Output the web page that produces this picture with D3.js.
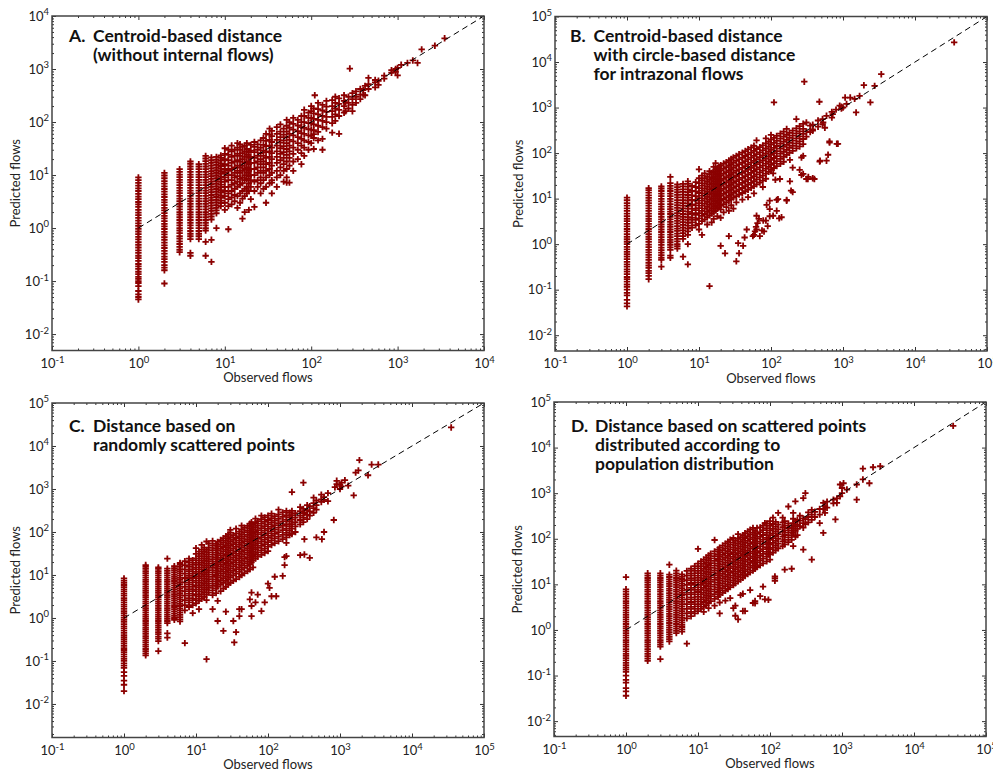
<!DOCTYPE html>
<html>
<head>
<meta charset="utf-8">
<script src="https://cdn.jsdelivr.net/npm/d3@7"></script>
<style>
  body { margin: 0; background: #fff; }
  text { font-family: Lato, "Open Sans", sans-serif; }
</style>
</head>
<body>
<svg id="chart" width="993" height="771"></svg>
<script>
// Panel titles
const titleA = ["Centroid-based distance", "(without internal flows)"];
const titleB = ["Centroid-based distance", "with circle-based distance", "for intrazonal flows"];
const titleC = ["Distance based on", "randomly scattered points"];
const titleD = ["Distance based on scattered points", "distributed according to", "population distribution"];

// Decade exponents used as major tick labels
const xExpA = [-1, 0, 1, 2, 3, 4];
const yExpA = [-2, -1, 0, 1, 2, 3, 4];
const xExpB = [-1, 0, 1, 2, 3, 4, 5];
const yExpB = [-2, -1, 0, 1, 2, 3, 4, 5];
const xExpC = [-1, 0, 1, 2, 3, 4, 5];
const yExpC = [-2, -1, 0, 1, 2, 3, 4, 5];
const xExpD = [-1, 0, 1, 2, 3, 4, 5];
const yExpD = [-2, -1, 0, 1, 2, 3, 4, 5];

// [observed flow, [predicted flows ...]]
const flowsA = [
  [1, [0.045, 0.05, 0.056, 0.065, 0.08, 0.092, 0.1, 0.11, 0.12, 0.135, 0.15, 0.17, 0.19, 0.21, 0.24, 0.27, 0.3, 0.34, 0.38, 0.43, 0.48, 0.54, 0.61, 0.68, 0.77, 0.86, 0.97, 1.1, 1.23, 1.38, 1.55, 1.75, 1.95, 2.2, 2.5, 2.8, 3.1, 3.5, 3.9, 4.4, 5, 5.6, 6.3, 7.1, 8, 9]],
  [2, [0.09, 0.16, 0.18, 0.2, 0.23, 0.26, 0.29, 0.33, 0.37, 0.42, 0.47, 0.53, 0.6, 0.67, 0.76, 0.85, 0.96, 1.08, 1.2, 1.35, 1.52, 1.7, 1.92, 2.15, 2.4, 2.7, 3.05, 3.4, 3.85, 4.3, 4.85, 5.45, 6.1, 6.9, 7.7, 8.7, 9.8, 11]],
  [3, [0.35, 0.39, 0.44, 0.5, 0.56, 0.63, 0.7, 0.8, 0.9, 1.0, 1.12, 1.26, 1.42, 1.6, 1.8, 2.0, 2.25, 2.55, 2.85, 3.2, 3.6, 4.05, 4.55, 5.1, 5.75, 6.45, 7.25, 8.1, 9.1, 10.2, 11.5, 12.9]],
  [4, [0.3, 0.34, 0.62, 0.7, 0.78, 0.88, 1.0, 1.12, 1.26, 1.42, 1.6, 1.8, 2.0, 2.25, 2.55, 2.85, 3.2, 3.6, 4.05, 4.55, 5.1, 5.75, 6.45, 7.25, 8.1, 9.1, 10.2, 11.5, 12.9, 14.5, 16.3, 18]],
  [5, [0.62, 0.7, 0.78, 0.88, 1.0, 1.12, 1.26, 1.42, 1.6, 1.8, 2.0, 2.25, 2.55, 2.85, 3.2, 3.6, 4.05, 4.55, 5.1, 5.75, 6.45, 7.25, 8.1, 9.1, 10.2, 11.5, 12.9, 14.5, 16]],
  [6, [0.3, 0.55, 0.9, 1.0, 1.12, 1.26, 1.42, 1.6, 1.8, 2.0, 2.25, 2.55, 2.85, 3.2, 3.6, 4.05, 4.55, 5.1, 5.75, 6.45, 7.25, 8.1, 9.1, 10.2, 11.5, 12.9, 14.5, 16.3, 18.3, 20.5, 23]],
  [7, [0.23, 0.6, 1.45, 1.65, 1.85, 2.1, 2.35, 2.65, 3.0, 3.35, 3.75, 4.2, 4.75, 5.3, 6.0, 6.7, 7.5, 8.45, 9.5, 10.6, 11.9, 13.4, 15, 16.9, 19, 21.5]],
  [8, [1.0, 1.9, 2.15, 2.4, 2.7, 3.05, 3.4, 3.85, 4.3, 4.85, 5.45, 6.1, 6.9, 7.7, 8.7, 9.8, 11, 12.3, 13.8, 15.5, 17.5, 19.6, 22]],
  [9, [2.6, 2.95, 3.3, 3.7, 4.15, 4.65, 5.2, 5.85, 6.6, 7.4, 8.3, 9.3, 10.5, 11.8, 13.2, 14.8, 16.6, 18.7, 21, 23.5]],
  [10, [2.2, 3, 4, 5, 6, 7.5, 9, 11, 13, 16, 20, 25, 32]],
  [11, [0.95, 2.6, 3.5, 4.5, 6, 8, 10, 12, 15, 19, 24, 30]],
  [12, [2.8, 3.8, 5, 6.5, 8, 10, 13, 17, 22, 28, 36]],
  [13, [3.2, 4.2, 5.5, 7, 9, 11, 14, 18, 23, 30]],
  [14, [2.4, 4, 6, 7.5, 9.5, 12, 15, 19, 25, 33, 40]],
  [15, [3, 4.5, 6.5, 8.5, 11, 14, 18, 23, 30, 38]],
  [16, [1.5, 3.6, 5, 7, 9, 12, 15, 20, 26, 34]],
  [17, [2, 4, 5.5, 8, 10, 13, 17, 22, 28, 36]],
  [18, [4.5, 6, 8.5, 11, 14, 18, 24, 31, 40]],
  [19, [2.2, 5, 7, 9.5, 12, 16, 21, 27]],
  [20, [3.5, 6, 8, 10, 13, 17, 22, 29, 37]],
  [22, [2.5, 5, 7.5, 10, 13, 17, 21, 27, 34, 42]],
  [24, [6, 8, 11, 14, 18, 23, 30, 38]],
  [26, [4.5, 7, 9, 12, 16, 20, 26, 33, 45]],
  [28, [5.5, 8, 11, 14, 18, 23, 29, 37, 50]],
  [30, [3, 6, 9, 12, 16, 21, 27, 35, 44, 60]],
  [33, [7, 10, 13, 17, 22, 28, 36, 46, 58, 75]],
  [35, [7.2, 4.5, 8, 11, 15, 20, 26, 33, 42, 54, 68]],
  [40, [6, 9, 12, 17, 22, 28, 36, 46, 60, 80]],
  [44, [10, 14, 19, 25, 32, 41, 52, 66, 90]],
  [48, [7.5, 12, 16, 21, 27, 35, 45, 58, 75]],
  [52, [7.2, 9, 13, 18, 24, 31, 40, 52, 66, 85, 110]],
  [56, [7.2, 15, 21, 28, 36, 46, 60, 78, 100]],
  [62, [12, 18, 25, 33, 43, 56, 72, 92, 120]],
  [70, [20, 30, 40, 52, 67, 86, 110]],
  [77, [16, 26, 36, 48, 62, 80, 100, 130]],
  [83, [33, 23, 45, 60, 78, 100, 130, 170]],
  [93, [30, 42, 56, 73, 95, 120, 150]],
  [100, [40, 55, 72, 95, 120, 160, 200]],
  [107, [31, 59, 50, 70, 90, 115, 145, 180]],
  [110, [320]],
  [120, [45, 65, 85, 110, 140, 175, 230]],
  [135, [30, 48, 80, 105, 130, 165, 210]],
  [150, [75, 100, 125, 155, 195, 250]],
  [175, [63, 95, 125, 160, 200, 260]],
  [190, [105, 140, 180, 230, 300]],
  [210, [60, 130, 170, 220, 280]],
  [240, [150, 200, 250, 320]],
  [250, [160, 235]],
  [270, [180, 230, 300]],
  [280, [1020]],
  [300, [160, 210, 270, 350]],
  [330, [230, 300, 380]],
  [370, [270, 330, 420]],
  [400, [330, 400]],
  [420, [320, 480]],
  [460, [680, 520, 420]],
  [550, [450, 560, 620]],
  [600, [500, 600]],
  [700, [660, 750]],
  [850, [850, 950]],
  [950, [880, 1000]],
  [1000, [760, 1050]],
  [1100, [1200]],
  [1300, [1300]],
  [1500, [1450]],
  [1700, [1300]],
  [1900, [2350]],
  [2700, [2750]],
  [3500, [3800]]
];

const flowsB = [
  [1, [0.043, 0.05, 0.06, 0.075, 0.085, 0.1, 0.115, 0.13, 0.15, 0.17, 0.19, 0.22, 0.25, 0.28, 0.32, 0.36, 0.41, 0.47, 0.53, 0.6, 0.68, 0.77, 0.87, 1.0, 1.13, 1.28, 1.45, 1.65, 1.9, 2.15, 2.45, 2.8, 3.2, 3.6, 4.1, 4.7, 5.4, 6.1, 7, 8, 9.2, 10.5]],
  [2, [0.17, 0.2, 0.23, 0.26, 0.3, 0.34, 0.39, 0.45, 0.51, 0.58, 0.66, 0.75, 0.86, 0.98, 1.12, 1.28, 1.45, 1.65, 1.9, 2.15, 2.45, 2.8, 3.2, 3.6, 4.1, 4.7, 5.4, 6.1, 7, 8, 9.1, 10.4, 11.8, 13.5, 15.4, 17]],
  [3, [0.32, 0.45, 0.5, 0.57, 0.65, 0.74, 0.84, 0.96, 1.1, 1.25, 1.42, 1.62, 1.85, 2.1, 2.4, 2.7, 3.1, 3.5, 4, 4.6, 5.2, 5.9, 6.7, 7.6, 8.7, 9.9, 11.3, 12.9, 14.7, 16.7, 18.5]],
  [4, [0.5, 0.56, 0.75, 0.85, 0.97, 1.1, 1.25, 1.42, 1.62, 1.85, 2.1, 2.4, 2.7, 3.1, 3.5, 4, 4.6, 5.2, 5.9, 6.7, 7.6, 8.7, 9.9, 11.3, 12.9, 14.7, 16.7, 19, 22, 30]],
  [5, [0.8, 0.9, 1.0, 1.15, 1.3, 1.5, 1.7, 1.95, 2.2, 2.5, 2.85, 3.25, 3.7, 4.2, 4.8, 5.5, 6.3, 7.2, 8.2, 9.3, 10.6, 12.1, 13.8, 15.7, 17.9, 20.4]],
  [6, [0.53, 1.3, 1.5, 1.75, 2, 2.3, 2.65, 3.05, 3.5, 4, 4.6, 5.3, 6.1, 7, 8, 9.2, 10.6, 12.2, 14, 16, 18.5, 21]],
  [7, [0.36, 1.0, 1.6, 1.9, 2.2, 2.55, 2.95, 3.4, 3.9, 4.5, 5.2, 6, 6.9, 7.9, 9.1, 10.5, 12, 13.8, 15.9, 18.3, 21, 24]],
  [8, [2.3, 3, 3.8, 4.8, 6, 7.5, 9.4, 11.8, 14.8, 19]],
  [9, [2.6, 3.4, 4.4, 5.6, 7.1, 9, 11.4, 14.4, 18, 23]],
  [10, [2.1, 2.8, 3.7, 4.8, 6.2, 8, 10.3, 13.3, 17, 22, 28, 44]],
  [11, [1.6, 3.2, 4.2, 5.4, 7, 9, 11.6, 15, 19.3, 25, 32]],
  [12, [3.5, 4.6, 6, 7.8, 10, 13, 16.7, 21.5, 28, 36]],
  [13, [2.7, 3.9, 5.1, 6.6, 8.5, 11, 14.2, 18.3, 23.6, 30.5]],
  [14, [0.12, 4.3, 5.6, 7.3, 9.4, 12.2, 15.7, 20.3, 26, 34, 40]],
  [15, [3, 4.7, 6.1, 7.9, 10.2, 13.2, 17, 22, 28.4, 36.7]],
  [16, [3.6, 5.1, 6.6, 8.6, 11.1, 14.3, 18.5, 23.9, 30.8, 39.8, 50]],
  [17, [5.5, 7.2, 9.3, 12, 15.5, 20, 25.8, 33.4, 43, 60]],
  [18, [4.1, 6, 7.8, 10, 13, 16.8, 21.7, 28, 36.2, 46.7]],
  [19, [6.5, 8.4, 10.9, 14, 18.2, 23.5, 30.3, 39, 50]],
  [20, [0.92, 3.8, 5.8, 7, 9.1, 11.8, 15.2, 19.6, 25.3, 32.7, 42.2, 54]],
  [22, [5, 7.6, 9.8, 12.7, 16.4, 21.2, 27.3, 35.3, 45.6, 58.9]],
  [23, [0.63]],
  [24, [6.5, 8.3, 10.6, 13.7, 17.7, 22.8, 29.5, 38, 49, 63]],
  [26, [1.5, 5.4, 9, 11.5, 14.8, 19.1, 24.7, 31.9, 41.2, 53.2, 68.7]],
  [28, [7.2, 9.7, 12.4, 16, 20.6, 26.6, 34.4, 44.4, 57.3, 74]],
  [30, [6, 10.5, 13.4, 17.3, 22.3, 28.8, 37.2, 48, 62, 80]],
  [33, [0.42, 8.3, 11.4, 14.6, 18.8, 24.3, 31.4, 40.5, 52.3, 67.5, 87]],
  [35, [1.05]],
  [36, [0.63, 12.3, 15.8, 20.4, 26.3, 34, 43.9, 56.7, 73, 94]],
  [40, [9.5, 13.3, 17.1, 22.1, 28.5, 36.8, 47.5, 61.3, 79.1, 102]],
  [41, [0.92]],
  [43, [1.4]],
  [44, [14.5, 18.7, 24.1, 31.1, 40.1, 51.8, 66.9, 86.3, 111]],
  [46, [2.1]],
  [48, [10.8, 15.7, 20.3, 26.2, 33.8, 43.6, 56.3, 72.7, 94, 121]],
  [53, [17.2, 22.2, 28.6, 36.9, 47.6, 61.5, 79.4, 102, 132]],
  [56, [1.5]],
  [58, [1.6, 13, 18.8, 24.3, 31.3, 40.4, 52.2, 67.4, 87, 112, 145]],
  [60, [1.9]],
  [62, [2.4]],
  [63, [2.1, 4.2, 20.6, 26.5, 34.2, 44.2, 57, 73.6, 95, 123, 190]],
  [65, [2.9]],
  [68, [3.6]],
  [70, [1.5, 22.6, 29.2, 37.7, 48.6, 62.7, 81, 104, 135]],
  [75, [2.0]],
  [77, [18, 24.8, 32, 41.3, 53.3, 68.8, 88.8, 115, 148]],
  [78, [3.3]],
  [80, [1.9]],
  [85, [3.3, 27.3, 35.3, 45.5, 58.8, 75.9, 98, 126, 163, 210]],
  [87, [7.3]],
  [90, [2.5]],
  [93, [38.8, 50, 64.6, 83.4, 108, 139, 179]],
  [96, [5.9, 9, 4.1]],
  [100, [42.6, 55, 71, 91.6, 118, 153, 197, 250]],
  [107, [4.2, 36]],
  [110, [47, 60.5, 78, 100, 130, 168, 215, 1300]],
  [115, [26]],
  [120, [9.4, 5.4, 51.6, 66.6, 86, 111, 143, 185, 238]],
  [125, [9.7]],
  [130, [3.7]],
  [133, [27]],
  [135, [58, 75, 97, 125, 161, 208, 268]],
  [140, [3.9]],
  [150, [64.6, 83, 107, 138, 178, 230, 297]],
  [165, [9, 9.4, 91, 118, 152, 196, 253, 340]],
  [180, [101, 130, 167, 216, 279]],
  [183, [24, 71]],
  [190, [15]],
  [200, [13.9, 48, 112, 145, 187, 241, 310]],
  [225, [127, 164, 211, 272, 350, 560]],
  [250, [43, 140, 181, 233, 300, 390]],
  [265, [33, 80]],
  [280, [35, 87, 158, 204, 263, 340, 440]],
  [290, [3700]],
  [310, [27, 230, 300, 470]],
  [325, [27]],
  [330, [30]],
  [350, [290, 400]],
  [380, [28, 310, 330, 420]],
  [400, [27]],
  [450, [380, 520]],
  [470, [1340]],
  [475, [65]],
  [480, [68]],
  [520, [430, 560]],
  [530, [470]],
  [560, [360]],
  [590, [68, 660]],
  [620, [92]],
  [650, [170, 180]],
  [700, [600, 800]],
  [720, [720]],
  [800, [900]],
  [820, [160]],
  [850, [160]],
  [900, [1100]],
  [950, [950, 1050]],
  [1000, [1000]],
  [1070, [1660]],
  [1120, [1200]],
  [1260, [1660]],
  [1450, [1550]],
  [1520, [780]],
  [1700, [1800]],
  [1950, [3100]],
  [2400, [1300]],
  [2750, [3000]],
  [3400, [5400]],
  [35000, [27000]]
];

const flowsC = [
  [1, [0.02, 0.028, 0.035, 0.045, 0.055, 0.069, 0.078, 0.088, 0.1, 0.112, 0.126, 0.142, 0.16, 0.18, 0.2, 0.225, 0.255, 0.285, 0.32, 0.36, 0.4, 0.45, 0.51, 0.57, 0.64, 0.72, 0.81, 0.91, 1.02, 1.15, 1.3, 1.45, 1.63, 1.83, 2.05, 2.3, 2.6, 2.9, 3.3, 3.7, 4.15, 4.65, 5.2, 5.85, 6.6, 7.4, 8.3]],
  [2, [0.135, 0.15, 0.17, 0.19, 0.215, 0.24, 0.27, 0.3, 0.34, 0.38, 0.43, 0.48, 0.54, 0.6, 0.68, 0.76, 0.85, 0.96, 1.08, 1.2, 1.35, 1.52, 1.7, 1.92, 2.15, 2.4, 2.7, 3.05, 3.4, 3.85, 4.3, 4.85, 5.45, 6.1, 6.9, 7.7, 8.7, 9.8, 11, 12.3, 13.8, 15.5, 17]],
  [3, [0.17, 0.29, 0.33, 0.37, 0.42, 0.47, 0.53, 0.6, 0.67, 0.76, 0.85, 0.96, 1.08, 1.2, 1.35, 1.52, 1.7, 1.92, 2.15, 2.4, 2.7, 3.05, 3.4, 3.85, 4.3, 4.85, 5.45, 6.1, 6.9, 7.7, 8.7, 9.8, 11, 12.3, 13.8, 15]],
  [4, [0.35, 0.44, 0.76, 0.85, 0.96, 1.08, 1.2, 1.35, 1.52, 1.7, 1.92, 2.15, 2.4, 2.7, 3.05, 3.4, 3.85, 4.3, 4.85, 5.45, 6.1, 6.9, 7.7, 8.7, 9.8, 11, 12.5, 14, 24]],
  [5, [0.91, 1.0, 1.12, 1.26, 1.42, 1.6, 1.8, 2.0, 2.25, 2.55, 2.85, 3.2, 3.6, 4.05, 4.55, 5.1, 5.75, 6.45, 7.25, 8.1, 9.1, 10.2, 11.5, 12.9, 14.5, 16]],
  [6, [0.83, 0.93, 1.05, 1.18, 1.33, 1.5, 1.68, 1.9, 2.12, 2.4, 2.7, 3.0, 3.4, 3.8, 4.3, 4.8, 5.4, 6.1, 6.8, 7.7, 8.6, 9.7, 10.9, 12.2, 13.7, 15.4, 17.3, 19]],
  [7, [0.26, 1.5, 2, 2.6, 3.3, 4.2, 5.3, 6.7, 8.5, 10.7, 13.5, 17, 21]],
  [8, [1.8, 2.3, 2.9, 3.7, 4.7, 6, 7.6, 9.6, 12.2, 15.5, 19.5, 24]],
  [9, [1.3, 2, 2.6, 3.3, 4.2, 5.3, 6.7, 8.5, 10.8, 13.7, 17.3, 22]],
  [10, [2.2, 2.8, 3.6, 4.6, 5.8, 7.4, 9.4, 11.9, 15.1, 19.2, 24.3, 31, 42]],
  [11, [1.6, 2.5, 3.2, 4.1, 5.2, 6.6, 8.4, 10.6, 13.5, 17.1, 21.7, 27.5, 35]],
  [12, [2.8, 3.6, 4.6, 5.8, 7.4, 9.4, 11.9, 15.1, 19.2, 24.3, 30.9, 39, 50]],
  [13, [3.1, 4, 5.1, 6.5, 8.2, 10.4, 13.2, 16.8, 21.3, 27, 34.3, 43.5]],
  [14, [0.11, 2.6, 3.5, 4.5, 5.7, 7.2, 9.2, 11.6, 14.8, 18.7, 23.8, 30.2, 38.3, 60]],
  [15, [3.9, 5, 6.3, 8, 10.2, 13, 16.5, 20.9, 26.5, 33.7, 42.8, 54]],
  [17, [1.6, 3.4, 4.4, 5.6, 7.1, 9, 11.5, 14.6, 18.5, 23.5, 29.8, 37.8, 48, 62]],
  [19, [3.8, 4.9, 6.2, 7.9, 10, 12.7, 16.2, 20.5, 26, 33, 42, 53]],
  [20, [0.85, 2.5, 5.4, 6.9, 8.8, 11.1, 14.1, 17.9, 22.8, 28.9, 36.7, 46.6, 59]],
  [22, [4.2, 6, 7.6, 9.7, 12.3, 15.6, 19.8, 25.1, 31.9, 40.5, 51.4, 65]],
  [24, [0.5, 4.8, 6.6, 8.4, 10.7, 13.6, 17.2, 21.9, 27.8, 35.3, 44.8, 57, 72]],
  [26, [1.4, 5.3, 7.3, 9.3, 11.8, 15, 19, 24.2, 30.7, 39, 49.5, 62.8, 80]],
  [28, [6, 8, 10.2, 13, 16.5, 21, 26.6, 33.8, 42.9, 54.5, 69, 88]],
  [30, [6.6, 8.9, 11.3, 14.3, 18.2, 23.1, 29.3, 37.2, 47.3, 60, 76, 97, 112]],
  [33, [0.85, 7.3, 9.8, 12.4, 15.8, 20, 25.4, 32.3, 41, 52, 66, 84]],
  [34, [0.27]],
  [36, [0.47, 8, 10.8, 13.7, 17.4, 22, 28, 35.5, 45, 57, 72.5, 92, 120]],
  [40, [1.1, 1.6, 9, 12, 15.2, 19.3, 24.5, 31, 39.5, 50, 63.5, 80.5, 102]],
  [43, [1.6, 10, 13.3, 16.9, 21.4, 27.2, 34.5, 43.8, 55.6, 70.6, 89.6, 114, 140]],
  [47, [11, 14.7, 18.6, 23.6, 30, 38, 48.3, 61.3, 77.8, 98.8, 125]],
  [52, [12.3, 16.2, 20.6, 26.1, 33.2, 42, 53.4, 67.8, 86, 109, 139]],
  [56, [2.7, 13.6, 17.9, 22.7, 28.9, 36.6, 46.5, 59, 75, 95, 121, 155]],
  [59, [1.1, 1.9, 3.9, 19.7, 25, 31.7, 40.3, 51, 65, 82.4, 105, 133, 170]],
  [62, [15, 21.8, 27.6, 35, 44.5, 56.5, 71.8, 91, 116, 147]],
  [67, [2.3, 24, 30.5, 38.7, 49.2, 62.4, 79.2, 100, 128, 162, 205]],
  [72, [3.5, 26.6, 33.7, 42.8, 54.4, 69, 87.6, 111, 141, 179]],
  [81, [1.45, 29.4, 37.3, 47.3, 60, 76.2, 96.8, 123, 156, 198, 240]],
  [90, [2.3, 32.5, 41.2, 52.3, 66.4, 84.3, 107, 136, 172, 219]],
  [100, [6.3, 36, 45.6, 57.8, 73.4, 93.2, 118, 150, 190, 240]],
  [105, [5]],
  [112, [3.2, 50, 64, 81, 103, 131, 166, 211, 268]],
  [124, [9.1, 55, 71, 90, 114, 145, 184, 233]],
  [130, [3.2]],
  [140, [61, 78, 99, 126, 160, 203, 258, 330]],
  [160, [9.5, 68, 86, 110, 139, 177, 224, 285]],
  [170, [26, 17]],
  [180, [27.5, 56, 75, 95, 120, 153, 194, 246, 310]],
  [200, [85, 108, 137, 174, 221, 280]],
  [215, [850, 90, 120, 152, 193, 245, 310]],
  [240, [100, 135, 170, 215, 275]],
  [280, [29, 150, 190, 240, 305, 380]],
  [310, [1400, 170, 215, 270, 345]],
  [320, [30, 68, 280]],
  [350, [200, 250, 320, 420]],
  [380, [25, 240, 300, 400]],
  [430, [630, 280, 360, 470]],
  [470, [75, 330, 420, 540]],
  [550, [575, 500, 740]],
  [560, [68]],
  [600, [100, 560, 650]],
  [680, [800, 520]],
  [820, [190]],
  [850, [1100]],
  [900, [1300, 1550]],
  [1000, [1000, 1250]],
  [1050, [1400, 1150]],
  [1170, [1600]],
  [1300, [1200]],
  [1550, [710]],
  [1650, [2400]],
  [1800, [2700]],
  [1860, [4680]],
  [2450, [2090]],
  [2750, [3700]],
  [3400, [3700]],
  [35000, [27000]]
];

const flowsD = [
  [1, [0.036, 0.045, 0.053, 0.07, 0.08, 0.1, 0.12, 0.135, 0.15, 0.17, 0.19, 0.215, 0.24, 0.27, 0.3, 0.34, 0.38, 0.43, 0.48, 0.54, 0.6, 0.68, 0.76, 0.85, 0.96, 1.08, 1.2, 1.35, 1.52, 1.7, 1.92, 2.15, 2.4, 2.7, 3.05, 3.4, 3.85, 4.3, 4.85, 5.45, 6.1, 6.9, 7.8, 14.4]],
  [2, [0.21, 0.235, 0.265, 0.3, 0.34, 0.38, 0.43, 0.48, 0.54, 0.6, 0.68, 0.76, 0.85, 0.96, 1.08, 1.2, 1.35, 1.52, 1.7, 1.92, 2.15, 2.4, 2.7, 3.05, 3.4, 3.85, 4.3, 4.85, 5.45, 6.1, 6.9, 7.7, 8.7, 9.8, 11, 12.3, 13.8, 15.5, 17.5]],
  [3, [0.23, 0.43, 0.48, 0.54, 0.6, 0.68, 0.76, 0.85, 0.96, 1.08, 1.2, 1.35, 1.52, 1.7, 1.92, 2.15, 2.4, 2.7, 3.05, 3.4, 3.85, 4.3, 4.85, 5.45, 6.1, 6.9, 7.7, 8.7, 9.8, 11, 12.3, 13.8, 15.5, 17.5]],
  [4, [0.56, 0.63, 0.71, 0.8, 0.9, 1.0, 1.12, 1.26, 1.42, 1.6, 1.8, 2.0, 2.25, 2.55, 2.85, 3.2, 3.6, 4.05, 4.55, 5.1, 5.75, 6.45, 7.25, 8.1, 9.1, 10.2, 11.5, 12.9, 14.5, 16.3, 27]],
  [5, [0.85, 0.95, 1.07, 1.2, 1.35, 1.52, 1.7, 1.92, 2.15, 2.4, 2.7, 3.05, 3.4, 3.85, 4.3, 4.85, 5.45, 6.1, 6.9, 7.7, 8.7, 9.8, 11, 12.3, 13.8, 15.5, 17.5, 20]],
  [6, [0.92, 1.03, 1.16, 1.3, 1.46, 1.64, 1.84, 2.07, 2.32, 2.6, 2.92, 3.28, 3.68, 4.13, 4.64, 5.2, 5.84, 6.55, 7.35, 8.25, 9.26, 10.4, 11.7, 13.1, 14.7, 16.5]],
  [7, [0.5, 1.8, 2.3, 2.9, 3.7, 4.7, 6, 7.6, 9.7, 12.3, 15.6, 19.8]],
  [8, [2, 2.5, 3.2, 4.1, 5.2, 6.6, 8.4, 10.7, 13.6, 17.3, 22]],
  [9, [2.3, 2.9, 3.7, 4.7, 6, 7.6, 9.7, 12.3, 15.6, 19.8, 25]],
  [10, [2.6, 3.3, 4.2, 5.3, 6.8, 8.6, 10.9, 13.9, 17.6, 22.4, 28.4, 60]],
  [11, [2.9, 3.7, 4.7, 6, 7.6, 9.7, 12.3, 15.6, 19.8, 25, 32]],
  [12, [2.5, 3.2, 4.1, 5.2, 6.6, 8.4, 10.7, 13.6, 17.3, 22, 28, 35]],
  [13, [3.5, 4.5, 5.7, 7.3, 9.2, 11.7, 14.9, 18.9, 24, 30.5, 38.7]],
  [14, [3, 3.9, 5, 6.3, 8, 10.2, 13, 16.5, 21, 26.6, 33.8, 43]],
  [15, [4.3, 5.5, 7, 8.9, 11.3, 14.3, 18.2, 23.1, 29.3, 37.2, 47.3]],
  [17, [3.4, 4.8, 6.1, 7.8, 9.9, 12.6, 16, 20.3, 25.8, 32.8, 41.6, 52.8, 94]],
  [19, [5.3, 6.8, 8.6, 10.9, 13.9, 17.6, 22.4, 28.4, 36, 45.8, 58]],
  [20, [2.3, 4, 5.9, 7.5, 9.5, 12.1, 15.3, 19.5, 24.7, 31.4, 39.9, 50.7, 64]],
  [22, [6.5, 8.3, 10.5, 13.4, 17, 21.6, 27.4, 34.8, 44.2, 56.1, 71]],
  [24, [4.4, 7.2, 9.1, 11.6, 14.7, 18.7, 23.7, 30.1, 38.3, 48.6, 61.7, 78]],
  [26, [7.9, 10, 12.8, 16.2, 20.6, 26.1, 33.2, 42.1, 53.5, 68, 86]],
  [28, [5, 8.7, 11, 14, 17.8, 22.6, 28.7, 36.5, 46.3, 58.8, 74.7, 95]],
  [31, [3, 9.6, 12.2, 15.5, 19.6, 24.9, 31.7, 40.2, 51, 64.8, 82.3, 104]],
  [33, [2.05, 3.4, 10.5, 13.4, 17, 21.6, 27.4, 34.8, 44.2, 56.1, 71.3, 90.5]],
  [36, [1.7, 11.6, 14.7, 18.7, 23.7, 30.1, 38.3, 48.6, 61.7, 78.3, 99.4, 126]],
  [39, [5.8, 12.7, 16.2, 20.5, 26, 33.1, 42, 53.3, 67.7, 86, 109]],
  [42, [2.6, 6.2, 14, 17.8, 22.6, 28.7, 36.4, 46.2, 58.7, 74.5, 94.6, 120]],
  [45, [2.6, 15.3, 19.5, 24.7, 31.4, 39.9, 50.6, 64.3, 81.6, 104, 132]],
  [49, [16.8, 21.4, 27.2, 34.5, 43.8, 55.6, 70.6, 89.7, 114, 145]],
  [53, [7.5, 18.4, 23.4, 29.7, 37.7, 47.9, 60.8, 77.2, 98, 124, 158]],
  [58, [3.9, 20, 25.6, 32.5, 41.3, 52.4, 66.5, 84.4, 107, 136, 173]],
  [62, [3.85, 4.3, 22, 28, 35.6, 45.2, 57.3, 72.8, 92.4, 117, 149]],
  [66, [173, 24, 30.5, 38.7, 49.2, 62.4, 79.2, 100.6, 128]],
  [73, [5.5, 26.3, 33.4, 42.4, 53.8, 68.3, 86.7, 110, 140, 178]],
  [80, [8.9, 29, 36.8, 46.7, 59.3, 75.3, 95.6, 121, 154, 195]],
  [85, [4.7, 220]],
  [90, [31.9, 40.5, 51.4, 65.3, 82.9, 105, 134, 170, 216]],
  [95, [4.6, 45, 60, 80, 106]],
  [100, [35, 46, 58.4, 74.2, 94.2, 120, 152, 193, 245]],
  [110, [290, 50, 64, 81, 103, 131, 166, 211]],
  [117, [13.6, 15, 12]],
  [120, [56, 71.1, 90.3, 115, 146, 185, 235]],
  [130, [370, 62, 78.6, 99.8, 127, 161, 204]],
  [150, [290, 69, 87.7, 111, 141, 179, 228]],
  [160, [21, 75, 95, 121, 153, 195, 245]],
  [180, [510, 173, 84, 107, 136, 172, 218]],
  [200, [22, 95, 120, 152, 194]],
  [210, [370, 69, 135, 171, 217, 275]],
  [225, [660, 110, 150, 190, 240]],
  [240, [120, 165, 205, 260]],
  [260, [190, 250, 320]],
  [290, [780, 58, 175, 220, 280]],
  [310, [1000, 210, 270]],
  [340, [230, 300, 380]],
  [380, [35, 260, 340, 430]],
  [420, [300, 390]],
  [490, [220, 340, 450]],
  [550, [135, 610, 450]],
  [580, [370, 520]],
  [620, [480, 650]],
  [760, [720, 600]],
  [810, [265]],
  [850, [610, 770]],
  [940, [1550, 850]],
  [1000, [1000, 1300]],
  [1050, [1650]],
  [1170, [1200]],
  [1600, [1550, 720]],
  [1950, [2000, 3450]],
  [2400, [1650]],
  [2700, [3700]],
  [3400, [3900]],
  [35000, [30000]]
];

// layout
const W = 432, H = 334.5;
const panels = [
  { letter: "A.", title: titleA, flows: flowsA, xExp: xExpA, yExp: yExpA, yMin: 0.0049, left: 52, top: 16, letterX: 17, textX: 41, titleY: 26 },
  { letter: "B.", title: titleB, flows: flowsB, xExp: xExpB, yExp: yExpB, yMin: 0.0045, left: 555, top: 16.5, letterX: 15, textX: 38.5, titleY: 25.5 },
  { letter: "C.", title: titleC, flows: flowsC, xExp: xExpC, yExp: yExpC, yMin: 0.00166, left: 52, top: 403, letterX: 17, textX: 41, titleY: 28.7 },
  { letter: "D.", title: titleD, flows: flowsD, xExp: xExpD, yExp: yExpD, yMin: 0.0046, left: 554, top: 402, letterX: 17, textX: 41, titleY: 29.7 }
];

const svg = d3.select("#chart");
const red = "#8b0000";

function minorTicks(lo, hi) {
  const out = [];
  for (let k = Math.floor(Math.log10(lo)); k <= Math.ceil(Math.log10(hi)); k++) {
    for (let m = 2; m <= 9; m++) {
      const v = m * Math.pow(10, k);
      if (v > lo && v < hi) out.push(v);
    }
  }
  return out;
}

// turn "10" labels into 10 with a raised exponent
function supLabels(sel) {
  sel.selectAll(".tick text").each(function (d) {
    const e = Math.round(Math.log10(d));
    const t = d3.select(this).text("10");
    t.append("tspan").attr("dy", "-0.55em").attr("font-size", "9.5px").text(String(e));
  });
}

function styleAxis(sel) {
  sel.attr("color", "#333").attr("font-family", "Lato, 'Open Sans', sans-serif")
    .attr("font-size", 13);
  sel.select(".domain").remove();
  sel.selectAll(".tick text").attr("fill", "#222");
}

panels.forEach(p => {
  const g = svg.append("g").attr("transform", `translate(${p.left},${p.top})`);
  const xMax = Math.pow(10, p.xExp[p.xExp.length - 1]);
  const x = d3.scaleLog().domain([Math.pow(10, p.xExp[0]), xMax]).range([0, W]);
  const y = d3.scaleLog().domain([p.yMin, Math.pow(10, p.yExp[p.yExp.length - 1])]).range([H, 0]);

  const pts = p.flows.flatMap(([obs, preds]) => preds.map(v => [obs, v]));

  g.append("g").selectAll("path").data(pts).join("path")
    .attr("d", "M-3.2,0H3.2M0,-3.2V3.2")
    .attr("transform", d => `translate(${x(d[0])},${y(d[1])})`)
    .attr("stroke", red)
    .attr("stroke-width", 1.8)
    .attr("fill", "none");

  // 1:1 reference line
  g.append("line")
    .attr("x1", x(1)).attr("y1", y(1))
    .attr("x2", x(xMax)).attr("y2", y(xMax))
    .attr("stroke", "#000").attr("stroke-width", 1)
    .attr("stroke-dasharray", "6,4");

  const majX = p.xExp.map(e => Math.pow(10, e));
  const majY = p.yExp.map(e => Math.pow(10, e));
  const minX = minorTicks(x.domain()[0], x.domain()[1]);
  const minY = minorTicks(y.domain()[0], y.domain()[1]);

  g.append("g").attr("transform", `translate(0,${H})`)
    .call(d3.axisBottom(x).tickValues(majX).tickSizeInner(-4).tickSizeOuter(0).tickPadding(8).tickFormat(() => "10"))
    .call(styleAxis).call(supLabels);
  g.append("g").attr("transform", `translate(0,${H})`)
    .call(d3.axisBottom(x).tickValues(minX).tickSizeInner(-2).tickSizeOuter(0).tickFormat(""))
    .call(styleAxis);
  g.append("g")
    .call(d3.axisLeft(y).tickValues(majY).tickSizeInner(-4).tickSizeOuter(0).tickPadding(3).tickFormat(() => "10"))
    .call(styleAxis).call(supLabels);
  g.append("g")
    .call(d3.axisLeft(y).tickValues(minY).tickSizeInner(-2).tickSizeOuter(0).tickFormat(""))
    .call(styleAxis);
  g.append("g")
    .call(d3.axisTop(x).tickValues(majX).tickSizeInner(-4).tickSizeOuter(0).tickFormat(""))
    .call(styleAxis);
  g.append("g")
    .call(d3.axisTop(x).tickValues(minX).tickSizeInner(-2).tickSizeOuter(0).tickFormat(""))
    .call(styleAxis);
  g.append("g").attr("transform", `translate(${W},0)`)
    .call(d3.axisRight(y).tickValues(majY).tickSizeInner(-4).tickSizeOuter(0).tickFormat(""))
    .call(styleAxis);
  g.append("g").attr("transform", `translate(${W},0)`)
    .call(d3.axisRight(y).tickValues(minY).tickSizeInner(-2).tickSizeOuter(0).tickFormat(""))
    .call(styleAxis);

  g.append("rect")
    .attr("width", W).attr("height", H)
    .attr("fill", "none").attr("stroke", "#444").attr("stroke-width", 1.5);

  // axis titles
  g.append("text")
    .attr("x", W / 2).attr("y", H + 31.5)
    .attr("text-anchor", "middle").attr("font-size", 13).attr("fill", "#222")
    .text("Observed flows");
  g.append("text")
    .attr("transform", `translate(-32,${H / 2}) rotate(-90)`)
    .attr("text-anchor", "middle").attr("font-size", 13).attr("fill", "#222")
    .text("Predicted flows");

  // panel title
  const tg = g.append("g").attr("font-weight", 700).attr("font-size", 17.5).attr("fill", "#111");
  tg.append("text").attr("x", p.letterX).attr("y", p.titleY).text(p.letter);
  tg.selectAll("text.line").data(p.title).join("text")
    .attr("class", "line")
    .attr("x", p.textX)
    .attr("y", (d, i) => p.titleY + i * 19)
    .text(d => d);
});
</script>
</body>
</html>
